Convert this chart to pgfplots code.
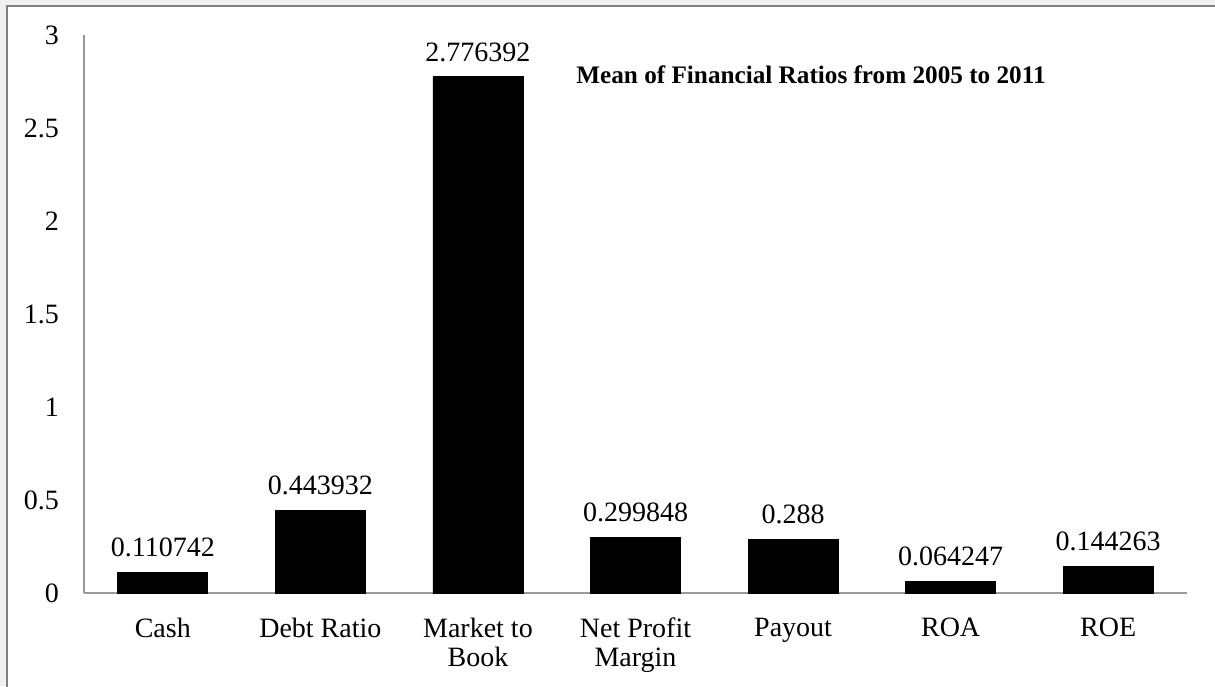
\documentclass[border=0pt]{standalone}
\usepackage{fontspec}
\setmainfont{Liberation Serif}
\usepackage{pgfplots}
\pgfplotsset{compat=1.18}
\begin{document}
% 1px of the reference = 0.5pt
\begin{tikzpicture}[x=0.5pt,y=0.5pt]
  \useasboundingbox (0,0) rectangle (1215,686);
  \fill[black!6] (0,0) rectangle (1215,686);
  \fill[white] (7,-10) rectangle (1230,680);
  \draw[black!50, line width=1pt] (7,-10) -- (7,680) -- (1230,680);
  \begin{axis}[
    at={(42pt,46.5pt)}, anchor=south west,
    scale only axis,
    width=551.5pt, height=279pt,
    xmin=-0.5, xmax=6.5,
    ymin=0, ymax=3,
    axis x line*=bottom, axis y line*=left,
    axis line style={black!40, line width=0.8pt},
    major tick length=0pt,
    ytick={0,0.5,1,1.5,2,2.5,3},
    yticklabels={0,0.5,1,1.5,2,2.5,3},
    xtick=data,
    xticklabels={Cash, Debt Ratio, Market to\\Book, Net Profit\\Margin, Payout, ROA, ROE},
    xticklabel style={align=center, font=\fontsize{14}{14.5}\selectfont, yshift=-9pt},
    yticklabel style={font=\fontsize{14}{16}\selectfont, xshift=-9pt},
    ybar, bar width=45pt,
    nodes near coords,
    point meta=explicit symbolic,
    every node near coord/.append style={font=\fontsize{14}{16}\selectfont, yshift=4pt},
    clip=false,
  ]
  \addplot[draw=black, fill=black] coordinates {
    (0,0.110742) [0.110742]
    (1,0.443932) [0.443932]
    (2,2.776392) [2.776392]
    (3,0.299848) [0.299848]
    (4,0.288)    [0.288]
    (5,0.064247) [0.064247]
    (6,0.144263) [0.144263]
  };
  \end{axis}
  \node[font=\bfseries\fontsize{12.6}{15}\selectfont] at (811,611) {Mean of Financial Ratios from 2005 to 2011};
\end{tikzpicture}
\end{document}
